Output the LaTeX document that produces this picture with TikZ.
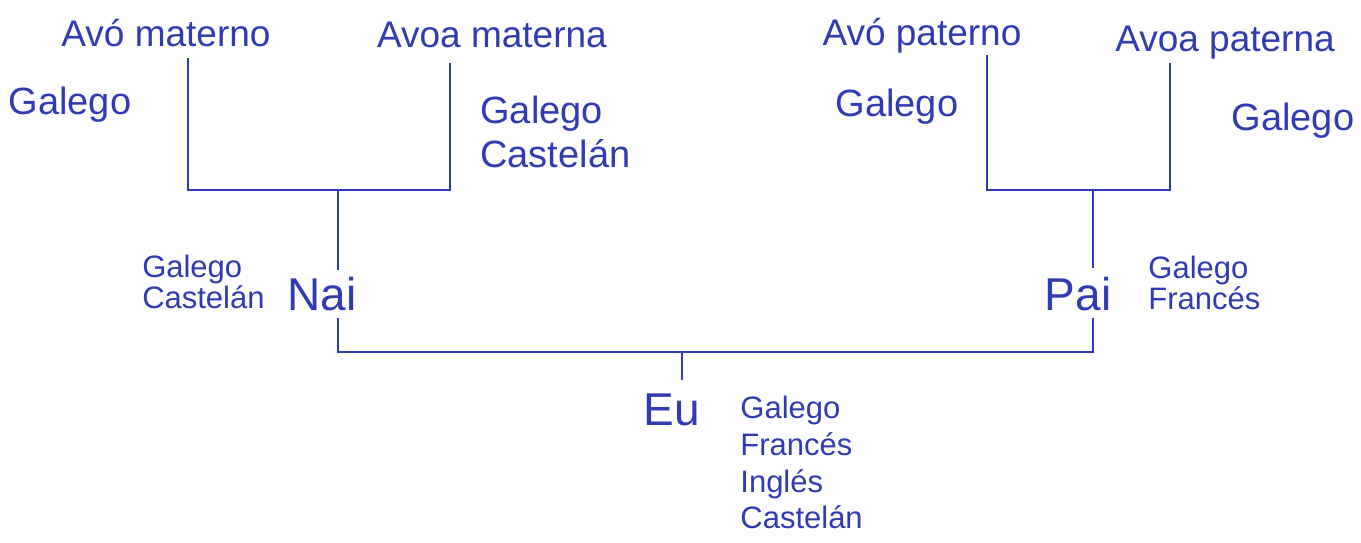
\documentclass[tikz,border=0pt]{standalone}
\usepackage{fontspec}
\setmainfont{Liberation Sans}
\definecolor{inkc}{RGB}{48,58,178}
\begin{document}
\begin{tikzpicture}[x=0.5pt,y=-0.5pt,
  inktext/.style={text=inkc,inner sep=0pt},
  gname/.style={inktext,font=\fontsize{18.5}{20}\selectfont},
  biglang/.style={inktext,font=\fontsize{19}{24}\selectfont},
  smalllang/.style={inktext,font=\fontsize{15.5}{15.5}\selectfont,align=left},
  eulang/.style={inktext,font=\fontsize{15.5}{18.3}\selectfont,align=left},
  person/.style={inktext,font=\fontsize{23}{24}\selectfont},
  wire/.style={draw=inkc,line width=1.1pt}]
\useasboundingbox (0,0) rectangle (1361,542);
% names
\node[gname] (am) at (166,33) {Avó materno};
\node[gname] (aam) at (492,35) {Avoa materna};
\node[gname] (ap) at (922,36) {Avó paterno};
\node[gname] (aap) at (1225,43) {Avoa paterna};
% languages of grandparents
\node[biglang] (lam) at (70,105) {Galego};
\node[biglang,align=left,anchor=north west] (laam) at (480,96) {Galego\\[-2pt]Castelán};
\node[biglang] (lap) at (897,107) {Galego};
\node[biglang] (laap) at (1293,121) {Galego};
% parents
\node[person] (nai) at (322,294) {Nai};
\node[person] (pai) at (1078,294) {Pai};
\node[smalllang,anchor=east] (lnai) at (265,282) {Galego\\Castelán};
\node[smalllang,anchor=west] (lpai) at (1148,283) {Galego\\Francés};
% me
\node[person] (eu) at (672,410) {Eu};
\node[eulang,anchor=north west] (leu) at (740,396) {Galego\\Francés\\Inglés\\Castelán};
% connector points
\coordinate (am1) at (188,58);
\coordinate (aam1) at (450,63);
\coordinate (mbar) at (338,190);
\coordinate (naiT) at (338,270);
\coordinate (naiB) at (338,318);
\coordinate (ap1) at (987,55);
\coordinate (aap1) at (1170,63);
\coordinate (pbar) at (1093,190);
\coordinate (paiT) at (1093,268);
\coordinate (paiB) at (1093,318);
\coordinate (bar) at (682,352);
\coordinate (euT) at (682,380);
% maternal
\draw[wire] (am1) |- (mbar) -| (aam1);
\draw[wire] (mbar) -- (naiT);
% paternal
\draw[wire] (ap1) |- (pbar) -| (aap1);
\draw[wire] (pbar) -- (paiT);
% parents bar
\draw[wire] (naiB) |- (bar) -| (paiB);
\draw[wire] (bar) -- (euT);
\end{tikzpicture}
\end{document}
